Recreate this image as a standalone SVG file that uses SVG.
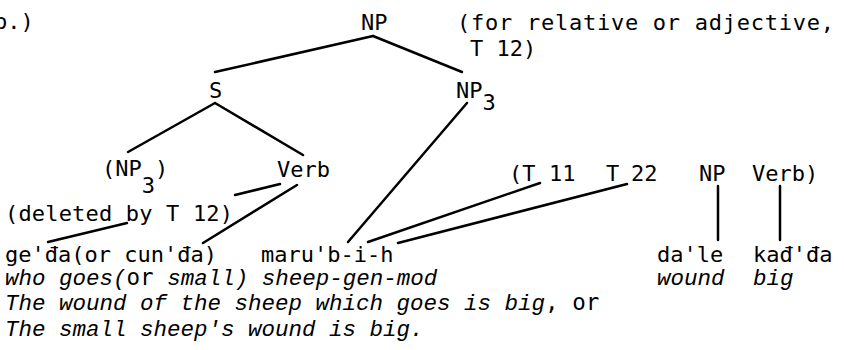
<svg xmlns="http://www.w3.org/2000/svg" width="844" height="350" viewBox="0 0 844 350">
<style>
.t{font-family:"DejaVu Sans Mono","Liberation Mono",monospace;font-size:22px;fill:#000}
.i{font-family:"Liberation Mono","DejaVu Sans Mono",monospace;font-size:22.5px;font-style:italic;fill:#000}
.n{font-style:normal;font-family:"DejaVu Sans Mono","Liberation Mono",monospace}
.c line{stroke:#000;stroke-width:2.5;stroke-linecap:round}
</style>
<rect width="844" height="350" fill="#fff"/>
<g id="cont"><text class="t" x="-6" y="29">b.)</text></g>
<g id="np-root"><text class="t" x="361" y="30">NP</text></g>
<g id="note"><text class="t" x="457" y="30" textLength="377" lengthAdjust="spacing">(for relative or adjective,</text><text class="t" x="470" y="56">T 12)</text></g>
<g id="s"><text class="t" x="209" y="98">S</text></g>
<g id="np3"><text class="t" x="456" y="98">NP<tspan dy="12">3</tspan></text></g>
<g id="np3-paren"><text class="t" x="102" y="176">(NP<tspan dy="17">3</tspan><tspan dy="-17">)</tspan></text></g>
<g id="verb"><text class="t" x="277" y="177">Verb</text></g>
<g id="t-row"><text class="t" y="181"><tspan x="509">(T</tspan><tspan x="549">11</tspan><tspan x="606">T</tspan><tspan x="631">22</tspan><tspan x="699">NP</tspan><tspan x="752">Verb)</tspan></text></g>
<g id="deleted"><text class="t" x="5" y="221" textLength="228" lengthAdjust="spacing">(deleted by T 12)</text></g>
<g id="geda"><text class="t" x="5" y="262">ge'đa(or cun'đa)</text></g>
<g id="marubih"><text class="t" x="261" y="262">maru'b-i-h</text></g>
<g id="dale"><text class="t" x="657" y="262">da'le</text></g>
<g id="kadda"><text class="t" x="753" y="262">kađ'đa</text></g>
<g id="gloss"><text class="i" x="5" y="285">who goes(<tspan class="n">or</tspan> small) sheep-gen-mod</text><text class="i" x="657" y="285">wound</text><text class="i" x="753" y="285">big</text></g>
<g id="translation"><text class="i" x="5" y="310">The wound of the sheep which goes is big<tspan class="n">, or</tspan></text><text class="i" x="5" y="336">The small sheep's wound is big.</text></g>
<g id="connectors" class="c">
<line x1="373" y1="36" x2="215" y2="72"/>
<line x1="373" y1="36" x2="462" y2="72"/>
<line x1="215" y1="103" x2="128" y2="152"/>
<line x1="215" y1="103" x2="303" y2="155"/>
<line x1="467" y1="103" x2="348" y2="242"/>
<line x1="280" y1="184" x2="235" y2="195"/>
<line x1="297" y1="185" x2="203" y2="243"/>
<line x1="127" y1="223" x2="48" y2="242"/>
<line x1="540" y1="183" x2="368" y2="242"/>
<line x1="627" y1="184" x2="398" y2="243"/>
<line x1="718" y1="186" x2="718" y2="240"/>
<line x1="780" y1="186" x2="780" y2="240"/>
</g>
</svg>
